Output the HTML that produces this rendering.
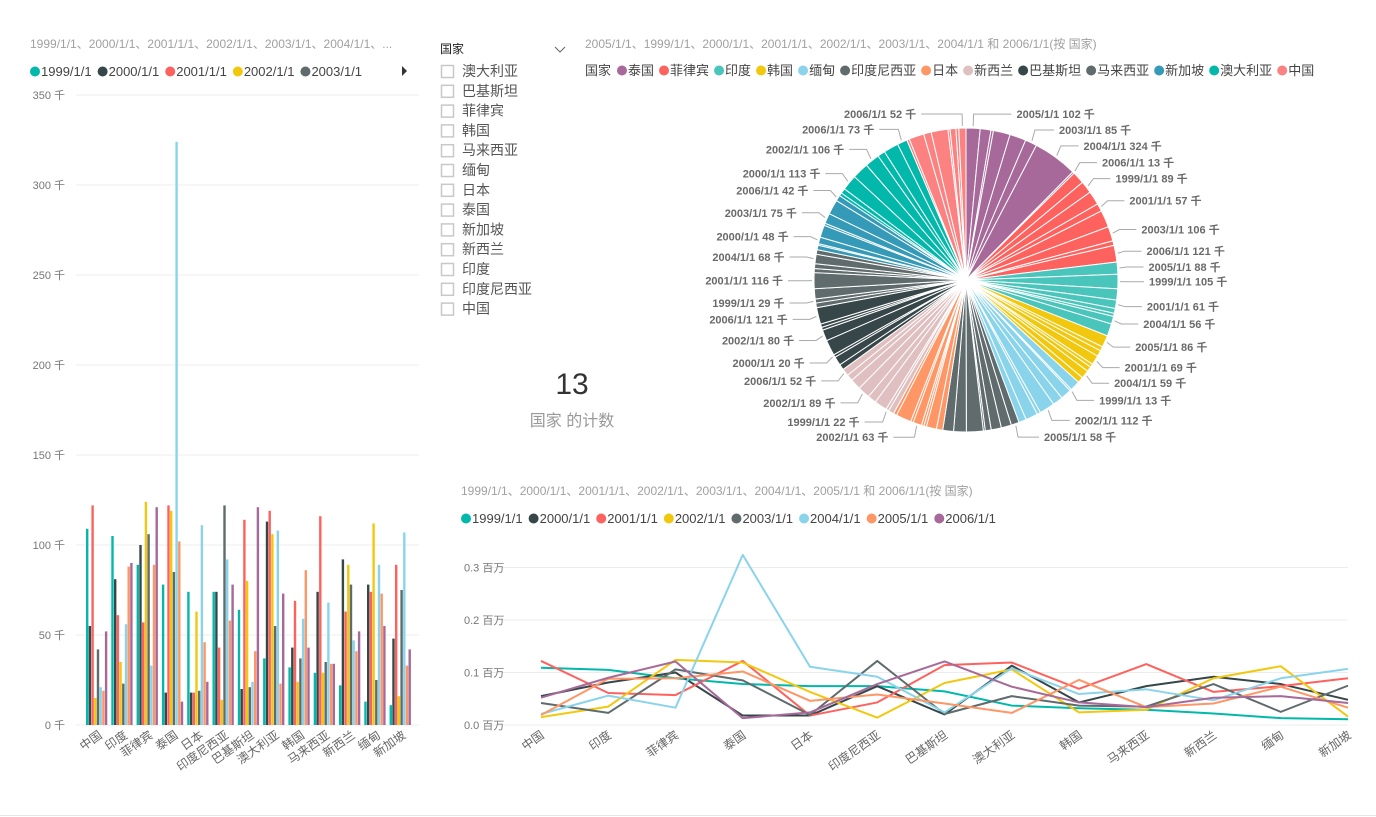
<!DOCTYPE html>
<html><head><meta charset="utf-8">
<style>
html,body{margin:0;padding:0;background:#fff;}
svg{display:block;font-family:"Liberation Sans","Noto Sans CJK SC",sans-serif;}
</style></head>
<body>
<svg id="s" width="1376" height="817" viewBox="0 0 1376 817" xmlns="http://www.w3.org/2000/svg">
<line x1="0" y1="815.5" x2="1376" y2="815.5" stroke="#e6e6e6"/>
<g>
<text x="30" y="48" font-size="12" fill="#a0a0a0">1999/1/1、2000/1/1、2001/1/1、2002/1/1、2003/1/1、2004/1/1、...</text>
<g id="barLegend"></g>
<path d="M402 66 L407 71 L402 76 Z" fill="#333"/>
<g id="barAxis"></g>
<g id="bars"></g>
<g id="barX"></g>
</g>
<g>
<text x="440" y="53" font-size="12" fill="#222">国家</text>
<path d="M555 47 L560 52 L565 47" fill="none" stroke="#666" stroke-width="1"/>
<g id="slicer"></g>
</g>
<g>
<text x="572" y="394" font-size="30" fill="#333" text-anchor="middle">13</text>
<text x="572" y="426" font-size="16" fill="#999" text-anchor="middle">国家 的计数</text>
</g>
<g>
<text x="585" y="48" font-size="12" fill="#a0a0a0">2005/1/1、1999/1/1、2000/1/1、2001/1/1、2002/1/1、2003/1/1、2004/1/1 和 2006/1/1(按 国家)</text>
<g id="pieLegend"></g>
<g id="pie"></g>
<g id="pieLabels"></g>
</g>
<g>
<text x="461" y="495" font-size="12" fill="#a0a0a0">1999/1/1、2000/1/1、2001/1/1、2002/1/1、2003/1/1、2004/1/1、2005/1/1 和 2006/1/1(按 国家)</text>
<g id="lineLegend"></g>
<g id="lineAxis"></g>
<g id="lines"></g>
<g id="lineX"></g>
</g>
</svg>
<script>
const countries = ["中国","印度","菲律宾","泰国","日本","印度尼西亚","巴基斯坦","澳大利亚","韩国","马来西亚","新西兰","缅甸","新加坡"];
const years = ["1999/1/1","2000/1/1","2001/1/1","2002/1/1","2003/1/1","2004/1/1","2005/1/1","2006/1/1"];
const v1999 = [109,105,89,78,74,74,64,37,32,29,22,13,11];
const v2000 = [55,81,100,18,18,74,20,113,43,74,92,78,48];
const v2001 = [122,61,57,122,18,43,114,119,69,116,63,74,89];
const v2002 = [15,35,124,119,63,14,80,106,24,29,89,112,16];
const v2003 = [42,23,106,85,19,122,21,55,37,35,78,25,75];
const v2004 = [21,56,33,324,111,92,24,108,59,68,47,89,107];
const v2005 = [19,88,89,102,46,58,41,23,86,34,41,73,33];
const v2006 = [52,90,121,13,24,78,121,73,43,34,52,55,42];
const series = [v1999,v2000,v2001,v2002,v2003,v2004,v2005,v2006];
const seriesColors = ["#01B8AA","#374649","#FD625E","#F2C80F","#5F6B6D","#8AD4EB","#FE9666","#A66999"];
const barTicks = [0,50,100,150,200,250,300,350];
const lineTicks = [0,0.1,0.2,0.3];
const lineTickLabels = ["0.0 百万","0.1 百万","0.2 百万","0.3 百万"];
const slicerItems = ["澳大利亚","巴基斯坦","菲律宾","韩国","马来西亚","缅甸","日本","泰国","新加坡","新西兰","印度","印度尼西亚","中国"];
const pieOrder = ["泰国","菲律宾","印度","韩国","缅甸","印度尼西亚","日本","新西兰","巴基斯坦","马来西亚","新加坡","澳大利亚","中国"];
const pieColors = ["#A66999","#FD625E","#4AC5BB","#F2C80F","#8AD4EB","#5F6B6D","#FE9666","#DFBFBF","#374649","#5F6B6D","#3599B8","#01B8AA","#FB8281"];
const pieYearOrder = [6,0,1,2,3,4,5,7];

const NS="http://www.w3.org/2000/svg";
function mk(tag,attrs,parent,text){const e=document.createElementNS(NS,tag);for(const k in attrs)e.setAttribute(k,attrs[k]);if(text!==undefined)e.textContent=text;parent.appendChild(e);return e;}
const $=id=>document.getElementById(id);

function legend(g,labels,colors,x0,y,gap,prefix,fs){
  let x=x0;
  labels.forEach((l,i)=>{
    const c=mk('circle',{cx:x+5,cy:y-4.5,r:5,fill:colors[i]},g);
    
    
    const t=mk('text',{x:x+11,y:y,'font-size':fs,fill:'#444'},g,l);
    
    
    x+=11+t.getComputedTextLength()+gap;
  });
}
legend($('barLegend'),years.slice(0,5),seriesColors,30,76,6,'bar-legend',13);
legend($('lineLegend'),years,seriesColors,461,523,6,'line-legend',13);
{const g=$('pieLegend');const t=mk('text',{x:585,y:75,'font-size':13,fill:'#444'},g,'国家');

legend(g,pieOrder,pieColors,617,75,5,'pie-legend',13);}

slicerItems.forEach((s,i)=>{
  const y=71+i*19.8;
  const r=mk('rect',{x:441.5,y:y-5.5,width:12,height:12,fill:'#fff',stroke:'#c8c8c8','stroke-width':1.5},$('slicer'));
  
  
  const t=mk('text',{x:462,y:y+5,'font-size':14,fill:'#555'},$('slicer'),s);
  
  
});

const bY=v=>725-v*1.8, bX0=86, bGroup=25.3, bW=2.7;
barTicks.forEach(t=>{
  const l=mk('line',{x1:76,x2:419,y1:bY(t),y2:bY(t),stroke:'#ececec'},$('barAxis'));
  
  const tx=mk('text',{x:65,y:bY(t)+4,'font-size':11,fill:'#777','text-anchor':'end'},$('barAxis'),t+' 千');
  
});
countries.forEach((c,gi)=>{
  series.forEach((s,si)=>{
    const r=mk('rect',{x:bX0+gi*bGroup+si*bW,y:bY(s[gi]),width:bW-0.3,height:s[gi]*1.8,fill:seriesColors[si]},$('bars'));
    
    
  });
  const cx=bX0+gi*bGroup+11;
  const t=mk('text',{x:cx+6,y:737,'font-size':12,fill:'#666','text-anchor':'end',transform:`rotate(-35 ${cx+6} 737)`},$('barX'),c);
  
});

const lY=v=>725-v*525, lX=i=>541+i*67.25;
lineTicks.forEach((t,i)=>{
  const l=mk('line',{x1:486,x2:1348,y1:lY(t),y2:lY(t),stroke:'#ececec'},$('lineAxis'));
  
  const tx=mk('text',{x:464,y:lY(t)+4,'font-size':11,fill:'#777'},$('lineAxis'),lineTickLabels[i]);
  
});
series.forEach((s,si)=>{
  const d=s.map((v,i)=>(i?'L':'M')+lX(i)+' '+lY(v/1000)).join(' ');
  const p=mk('path',{d:d,fill:'none',stroke:seriesColors[si],'stroke-width':2,'stroke-linejoin':'round'},$('lines'));
  
  
});
countries.forEach((c,i)=>{
  const x=lX(i)+4;
  const t=mk('text',{x:x,y:737,'font-size':12,fill:'#666','text-anchor':'end',transform:`rotate(-35 ${x} 737)`},$('lineX'),c);
  
});

const cx=966, cy=280, R=152;
const slices=[];
pieOrder.forEach((c,pi)=>{const ci=countries.indexOf(c);pieYearOrder.forEach(yi=>slices.push({c,pi,yi,v:series[yi][ci]}));});
const total=slices.reduce((a,s)=>a+s.v,0);
let acc=0;
slices.forEach(s=>{s.a0=acc/total*2*Math.PI;acc+=s.v;s.a1=acc/total*2*Math.PI;s.am=(s.a0+s.a1)/2;});
const pt=(a,r)=>[cx+r*Math.sin(a),cy-r*Math.cos(a)];
slices.forEach(s=>{
  const [x0,y0]=pt(s.a0,R),[x1,y1]=pt(s.a1,R);
  const large=(s.a1-s.a0)>Math.PI?1:0;
  const p=mk('path',{d:`M${cx} ${cy} L${x0} ${y0} A${R} ${R} 0 ${large} 1 ${x1} ${y1} Z`,fill:pieColors[s.pi],stroke:'#fff','stroke-width':1},$('pie'));
  
  
});
function placeLabels(list,right){
  let last=-1e9;
  list.forEach(s=>{
    let y=cy-(R+14)*Math.cos(s.am);
    if(y-last<14.5) return;
    last=y;
    const [ex,ey]=pt(s.am,R+2),[mx,my]=pt(s.am,R+9);
    const dx=Math.sqrt(Math.max(0,(R+18)**2-(y-cy)**2));
    const lx=right?cx+dx+8:cx-dx-8;
    const tx=right?lx+5:lx-5;
    const l=mk('polyline',{points:`${ex},${ey} ${mx},${y} ${lx},${y}`,fill:'none',stroke:'#aaa','stroke-width':1},$('pieLabels'));
    
    const t=mk('text',{x:tx,y:y+4,'font-size':11,'font-weight':'bold',fill:'#6a6a6a','text-anchor':right?'start':'end'},$('pieLabels'),years[s.yi]+' '+s.v+' 千');
    
  });
}
placeLabels(slices.filter(s=>s.am<Math.PI),true);
placeLabels(slices.filter(s=>s.am>=Math.PI).reverse(),false);
</script>
</body></html>
